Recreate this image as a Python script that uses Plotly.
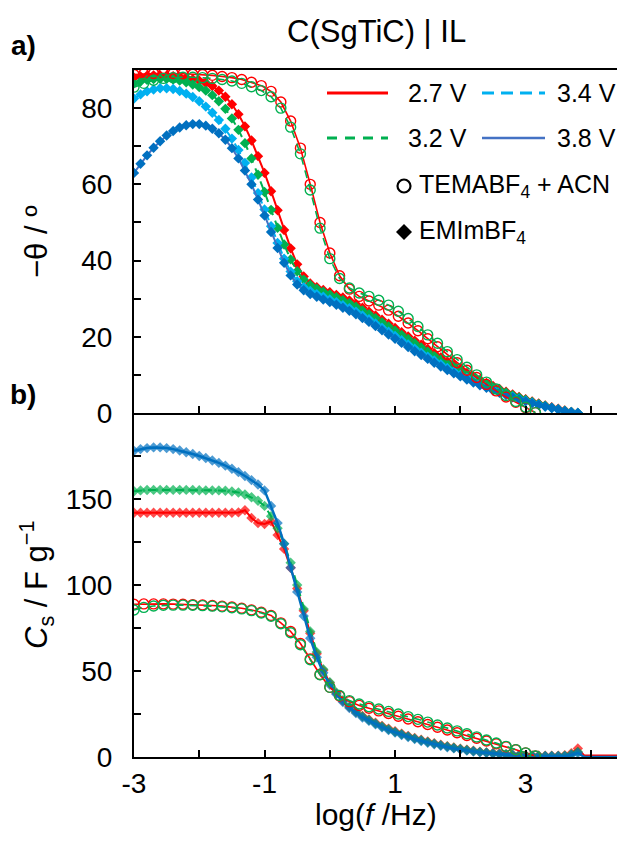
import plotly.graph_objects as go

# ---------------- data ----------------
LOGF_EMIM = [-3.0, -2.9, -2.8, -2.7, -2.6, -2.5, -2.4, -2.3, -2.2, -2.1,
             -2.0, -1.9, -1.8, -1.7, -1.6, -1.5, -1.4, -1.3, -1.2, -1.1,
             -1.0, -0.9, -0.8, -0.7, -0.6, -0.5, -0.4, -0.3, -0.2, -0.1,
             0.0, 0.1, 0.2, 0.3, 0.4, 0.5, 0.6, 0.7, 0.8, 0.9,
             1.0, 1.1, 1.2, 1.3, 1.4, 1.5, 1.6, 1.7, 1.8, 1.9,
             2.0, 2.1, 2.2, 2.3, 2.4, 2.5, 2.6, 2.7, 2.8, 2.9,
             3.0, 3.1, 3.2, 3.3, 3.4, 3.5, 3.6, 3.7, 3.8]
LOGF_TAIL = [3.9, 4.0, 4.1, 4.2, 4.3, 4.4]
LOGF_TEMA = [-3.0, -2.85, -2.7, -2.55, -2.4, -2.25, -2.1, -1.95, -1.8, -1.65,
             -1.5, -1.35, -1.2, -1.05, -0.9, -0.75, -0.6, -0.45, -0.3, -0.15,
             0.0, 0.15, 0.3, 0.45, 0.6, 0.75, 0.9, 1.05, 1.2, 1.35,
             1.5, 1.65, 1.8, 1.95, 2.1, 2.25, 2.4, 2.55, 2.7, 2.85,
             3.0, 3.15]

# phase angle -theta (deg), EMImBF4
PH_EMIM_27 = [88.0, 88.3, 88.5, 88.6, 88.6, 88.5, 88.4, 88.2, 88.0, 87.6,
              87.2, 86.6, 85.8, 84.6, 83.0, 81.0, 78.4, 75.2, 71.5, 67.4,
              63.0, 58.2, 53.2, 48.0, 43.2, 39.0, 35.8, 34.0, 33.0, 32.3,
              31.7, 31.0, 30.3, 29.5, 28.6, 27.6, 26.6, 25.6, 24.5, 23.4,
              22.3, 21.2, 20.1, 19.0, 17.9, 16.8, 15.7, 14.6, 13.5, 12.5,
              11.5, 10.5, 9.6, 8.7, 7.9, 7.1, 6.3, 5.6, 4.9, 4.2,
              3.6, 3.0, 2.5, 2.0, 1.5, 1.1, 0.7, 0.3, 0.0]
PH_EMIM_32 = [86.5, 87.0, 87.4, 87.6, 87.7, 87.7, 87.5, 87.2, 86.8, 86.2,
              85.5, 84.6, 83.4, 81.8, 79.8, 77.3, 74.3, 70.8, 66.8, 62.5,
              58.0, 53.3, 48.6, 44.2, 40.3, 37.2, 35.0, 33.6, 32.6, 31.8,
              31.1, 30.4, 29.6, 28.8, 27.9, 26.9, 25.9, 24.9, 23.8, 22.7,
              21.6, 20.5, 19.4, 18.3, 17.2, 16.1, 15.0, 14.0, 13.0, 12.0,
              11.0, 10.1, 9.2, 8.4, 7.6, 6.8, 6.1, 5.4, 4.7, 4.1,
              3.5, 2.9, 2.4, 1.9, 1.4, 1.0, 0.6, 0.3, 0.0]
PH_EMIM_34 = [82.5, 83.6, 84.4, 84.9, 85.2, 85.2, 85.0, 84.5, 83.8, 82.9,
              81.8, 80.4, 78.8, 76.9, 74.6, 72.0, 69.0, 65.6, 61.8, 57.7,
              53.4, 49.0, 44.6, 40.5, 37.1, 34.6, 33.0, 32.0, 31.2, 30.5,
              29.8, 29.1, 28.3, 27.5, 26.6, 25.6, 24.6, 23.5, 22.4, 21.3,
              20.2, 19.1, 18.0, 16.9, 15.8, 14.8, 13.8, 12.8, 11.8, 10.9,
              10.0, 9.2, 8.4, 7.6, 6.9, 6.2, 5.5, 4.9, 4.3, 3.7,
              3.2, 2.7, 2.2, 1.7, 1.3, 0.9, 0.5, 0.2, 0.0]
PH_EMIM_38 = [63.0, 65.4, 67.6, 69.6, 71.3, 72.8, 74.0, 74.9, 75.5, 75.8,
              75.8, 75.4, 74.6, 73.4, 71.7, 69.5, 66.8, 63.6, 60.0, 56.0,
              51.8, 47.5, 43.3, 39.4, 36.1, 33.7, 32.2, 31.2, 30.5, 29.8,
              29.1, 28.4, 27.6, 26.8, 25.9, 24.9, 23.9, 22.8, 21.7, 20.6,
              19.5, 18.4, 17.3, 16.2, 15.2, 14.2, 13.2, 12.2, 11.3, 10.4,
              9.6, 8.8, 8.0, 7.3, 6.6, 5.9, 5.3, 4.7, 4.1, 3.6,
              3.1, 2.6, 2.1, 1.7, 1.3, 0.9, 0.5, 0.2, 0.0]
# phase angle, TEMABF4 + ACN
PH_TEMA_27 = [88.8, 89.0, 89.1, 89.1, 89.1, 89.0, 88.9, 88.8, 88.6, 88.3,
              88.0, 87.5, 86.8, 85.9, 84.4, 81.6, 76.6, 69.5, 60.0, 50.0,
              42.0, 36.0, 32.5, 30.6, 29.4, 28.3, 27.0, 25.4, 23.6, 21.6,
              19.5, 17.4, 15.3, 13.2, 11.2, 9.3, 7.5, 5.8, 4.2, 2.8,
              1.4, 0.1]
PH_TEMA_32 = [85.5, 86.5, 87.3, 87.8, 88.0, 88.1, 88.1, 88.0, 87.8, 87.5,
              87.1, 86.5, 85.6, 84.6, 83.0, 80.0, 75.0, 68.0, 58.5, 48.5,
              40.5, 35.3, 32.8, 31.5, 30.6, 29.6, 28.3, 26.7, 24.8, 22.7,
              20.5, 18.3, 16.1, 14.0, 12.0, 10.0, 8.1, 6.3, 4.6, 3.0,
              1.5, 0.1]

# specific capacitance Cs (F/g), EMImBF4
CS_EMIM_27 = [142.0, 142.0, 142.0, 142.0, 142.0, 142.0, 142.0, 142.0, 142.0, 142.0,
              142.0, 142.0, 142.0, 142.0, 142.0, 142.0, 142.2, 143.5, 139.0, 136.0,
              135.5, 137.0, 129.0, 121.0, 110.0, 98.0, 85.0, 72.0, 60.0, 50.5,
              43.0, 37.0, 32.5, 29.0, 26.2, 23.8, 21.8, 19.9, 18.1, 16.5,
              15.0, 13.6, 12.3, 11.1, 10.0, 9.0, 8.0, 7.1, 6.3, 5.5,
              4.8, 4.2, 3.6, 3.1, 2.7, 2.3, 2.0, 1.7, 1.4, 1.2,
              1.0, 0.9, 0.8, 0.7, 0.7, 0.8, 1.0, 2.2, 5.0]
CS_EMIM_32 = [154.5, 155.0, 155.2, 155.3, 155.3, 155.3, 155.3, 155.3, 155.3, 155.2,
              155.1, 155.0, 155.0, 155.0, 154.8, 154.4, 153.8, 152.6, 151.0, 149.0,
              146.0, 140.0, 133.0, 124.0, 113.0, 100.0, 86.0, 73.0, 61.0, 51.0,
              43.5, 37.5, 33.0, 29.3, 26.3, 23.6, 21.5, 19.5, 17.7, 16.1,
              14.6, 13.2, 12.0, 10.8, 9.7, 8.7, 7.8, 6.9, 6.1, 5.4,
              4.7, 4.1, 3.5, 3.0, 2.6, 2.2, 1.9, 1.6, 1.3, 1.1,
              0.9, 0.8, 0.7, 0.6, 0.6, 0.6, 0.8, 1.6, 3.0]
CS_EMIM_38 = [178.0, 179.0, 179.6, 180.0, 180.0, 179.6, 179.0, 178.2, 177.2, 176.2,
              175.0, 173.8, 172.4, 171.0, 169.4, 167.6, 165.6, 163.4, 161.0, 158.4,
              155.0, 146.0, 136.0, 124.0, 110.0, 96.0, 82.0, 69.0, 58.0, 49.0,
              42.0, 36.5, 32.0, 28.5, 25.5, 23.0, 21.0, 19.0, 17.2, 15.6,
              14.2, 12.8, 11.6, 10.4, 9.3, 8.3, 7.4, 6.5, 5.7, 5.0,
              4.3, 3.7, 3.2, 2.7, 2.3, 1.9, 1.6, 1.3, 1.1, 0.9,
              0.7, 0.6, 0.5, 0.4, 0.4, 0.4, 0.5, 1.2, 2.3]
CS_TAIL_27 = [0.8, 0.8, 0.8, 0.8, 0.8, 0.8]
CS_TAIL_32 = [0.0, 0.0, 0.0, 0.0, 0.0, 0.0]
CS_TAIL_38 = [0.0, 0.0, 0.0, 0.0, 0.0, 0.0]
# Cs, TEMABF4 + ACN
CS_TEMA_27 = [88.8, 89.0, 89.0, 89.0, 88.9, 88.8, 88.6, 88.4, 88.1, 87.7,
              87.2, 86.5, 85.5, 84.2, 82.3, 78.0, 73.0, 66.0, 57.0, 48.0,
              40.5, 35.5, 32.2, 30.0, 28.3, 26.8, 25.3, 23.7, 22.1, 20.5,
              18.9, 17.3, 15.7, 14.1, 12.5, 10.9, 9.3, 7.7, 6.0, 4.2,
              2.4, 0.6]
CS_TEMA_32 = [85.5, 87.0, 87.8, 88.2, 88.3, 88.3, 88.2, 88.0, 87.7, 87.3,
              86.8, 86.1, 85.1, 83.7, 81.8, 77.5, 72.2, 65.3, 56.5, 47.8,
              40.5, 35.8, 32.8, 30.8, 29.3, 27.9, 26.5, 25.0, 23.5, 21.9,
              20.3, 18.6, 16.9, 15.2, 13.5, 11.7, 9.9, 8.1, 6.2, 4.3,
              2.4, 0.6]

X_TICKS = [-3, -2, -1, 0, 1, 2, 3, 4]
X_TICKTEXT = ["-3", "", "-1", "", "1", "", "3", ""]
Y1_TICKS = [0, 10, 20, 30, 40, 50, 60, 70, 80]
Y1_TICKTEXT = ["0", "", "20", "", "40", "", "60", "", "80"]
Y2_TICKS = [0, 25, 50, 75, 100, 125, 150, 175]
Y2_TICKTEXT = ["0", "", "50", "", "100", "", "150", ""]

# ---------------- styles ----------------
RED = "#FF0000"
GREEN = "#00B050"
LBLUE = "#00B0F0"
BLUE_L = "#4472C4"
BLUE_M = "#0070C0"
FONT = "Liberation Sans, Arial, sans-serif"
W, H = 617, 841

fig = go.Figure()


def emim(x, y, col, mcol, dash, xa, ya, sizes=None, lw=2):
    fig.add_trace(go.Scatter(
        x=x, y=y, mode="lines+markers", xaxis=xa, yaxis=ya, showlegend=False,
        line=dict(color=col, width=lw, dash=dash),
        marker=dict(symbol="diamond", size=sizes if sizes is not None else 8,
                    color=mcol, line=dict(width=0))))


def tema(x, y, col, dash, xa, ya):
    fig.add_trace(go.Scatter(
        x=x, y=y, mode="lines+markers", xaxis=xa, yaxis=ya, showlegend=False,
        line=dict(color=col, width=1.6, dash=dash),
        marker=dict(symbol="circle-open", size=10, color=col,
                    line=dict(width=1.4, color=col))))


# top panel
emim(LOGF_EMIM, PH_EMIM_27, RED, RED, "solid", "x", "y")
emim(LOGF_EMIM, PH_EMIM_32, GREEN, GREEN, "8px,6px", "x", "y")
emim(LOGF_EMIM, PH_EMIM_34, LBLUE, LBLUE, "12px,6px", "x", "y")
emim(LOGF_EMIM, PH_EMIM_38, BLUE_L, BLUE_M, "solid", "x", "y")
tema(LOGF_TEMA, PH_TEMA_27, RED, "solid", "x", "y")
tema(LOGF_TEMA, PH_TEMA_32, GREEN, "8px,6px", "x", "y")

# bottom panel
xb = LOGF_EMIM + LOGF_TAIL
sz = [8] * len(LOGF_EMIM) + [0] * len(LOGF_TAIL)
emim(xb, CS_EMIM_27 + CS_TAIL_27, RED, RED, "solid", "x2", "y2", sz)
emim(xb, CS_EMIM_32 + CS_TAIL_32, GREEN, GREEN, "8px,6px", "x2", "y2", sz)
emim(xb, CS_EMIM_38 + CS_TAIL_38, BLUE_M, BLUE_M, "solid", "x2", "y2", sz, lw=2.5)
tema(LOGF_TEMA, CS_TEMA_27, RED, "solid", "x2", "y2")
tema(LOGF_TEMA, CS_TEMA_32, GREEN, "8px,6px", "x2", "y2")

# ---------------- layout ----------------
x0 = 134 / W
top_dom = [1 - 413 / H, 1 - 70 / H]
bot_dom = [1 - 757 / H, 1 - 413 / H]
tickfont = dict(family=FONT, size=28, color="black")
axcommon = dict(showgrid=False, zeroline=False, showline=True, linecolor="black",
                linewidth=2, ticks="inside", tickcolor="black", tickwidth=2, ticklen=7,
                automargin=False)

fig.update_layout(
    template="none",
    width=W, height=H, autosize=False,
    margin=dict(l=0, r=0, t=0, b=0, pad=0),
    paper_bgcolor="white", plot_bgcolor="white",
    font=dict(family=FONT, color="black"),
    showlegend=False,
    xaxis=dict(domain=[x0, 1], range=[-3, 4.4], anchor="y", mirror=True,
               tickvals=X_TICKS, showticklabels=False, **axcommon),
    yaxis=dict(domain=top_dom, range=[0, 90], anchor="x",
               tickvals=Y1_TICKS, ticktext=Y1_TICKTEXT, tickfont=tickfont,
               ticklabelstandoff=14, **axcommon),
    xaxis2=dict(domain=[x0, 1], range=[-3, 4.4], anchor="y2",
                tickvals=X_TICKS, ticktext=X_TICKTEXT, tickfont=tickfont,
                ticklabelstandoff=0, **axcommon),
    yaxis2=dict(domain=bot_dom, range=[0, 200], anchor="x2",
                tickvals=Y2_TICKS, ticktext=Y2_TICKTEXT, tickfont=tickfont,
                ticklabelstandoff=14, **axcommon),
)


def px(x, y):
    return x / W, 1 - y / H


def text(x, y, s, size=25, xanchor="center", angle=0, bold=False):
    xx, yy = px(x, y)
    fig.add_annotation(x=xx, y=yy, xref="paper", yref="paper", text=("<b>%s</b>" % s) if bold else s,
                       showarrow=False, xanchor=xanchor, yanchor="middle", textangle=angle,
                       font=dict(family=FONT, size=size, color="black"))


text(376, 32, "C(SgTiC) | IL", size=31)
text(23, 46, "a)", size=28, bold=True)
text(23, 394, "b)", size=28, bold=True)
text(36, 242, "−θ / º", size=31, angle=-90)
text(36, 585, "<i>C</i><sub>s</sub> / F g<sup>−1</sup>", size=31, angle=-90)
text(376, 814, "log(<i>f</i> /Hz)", size=30)

# legend
def lline(x1, x2, y, col, dash, w=3):
    a, b = px(x1, y)
    c, _ = px(x2, y)
    fig.add_shape(type="line", xref="paper", yref="paper", x0=a, x1=c, y0=b, y1=b,
                  line=dict(color=col, width=w, dash=dash))


lline(327, 388, 93, RED, "solid")
lline(482, 545, 93, LBLUE, "12px,7px")
lline(327, 388, 138, GREEN, "10px,8px")
lline(482, 545, 138, BLUE_L, "solid", 2.5)
text(406, 93, "2.7 V", xanchor="left")
text(555, 93, "3.4 V", xanchor="left")
text(406, 138, "3.2 V", xanchor="left")
text(555, 138, "3.8 V", xanchor="left")

# circle symbol
cx, cy, r = 404, 186, 6.5
fig.add_shape(type="circle", xref="paper", yref="paper",
              x0=(cx - r) / W, x1=(cx + r) / W, y0=1 - (cy + r) / H, y1=1 - (cy - r) / H,
              line=dict(color="black", width=2.2))
# diamond symbol
dx, dy, d = 404, 232, 8
pts = [(dx, dy - d), (dx + d, dy), (dx, dy + d), (dx - d, dy)]
path = "M " + " L ".join("%f,%f" % (p[0] / W, 1 - p[1] / H) for p in pts) + " Z"
fig.add_shape(type="path", xref="paper", yref="paper", path=path,
              fillcolor="black", line=dict(color="black", width=0))
text(417, 186, "TEMABF<sub>4</sub> + ACN", xanchor="left")
text(417, 232, "EMImBF<sub>4</sub>", xanchor="left")

fig.write_html("out.html", config={"displayModeBar": False},
               post_script="document.body.style.margin='0';document.body.style.overflow='hidden';")
